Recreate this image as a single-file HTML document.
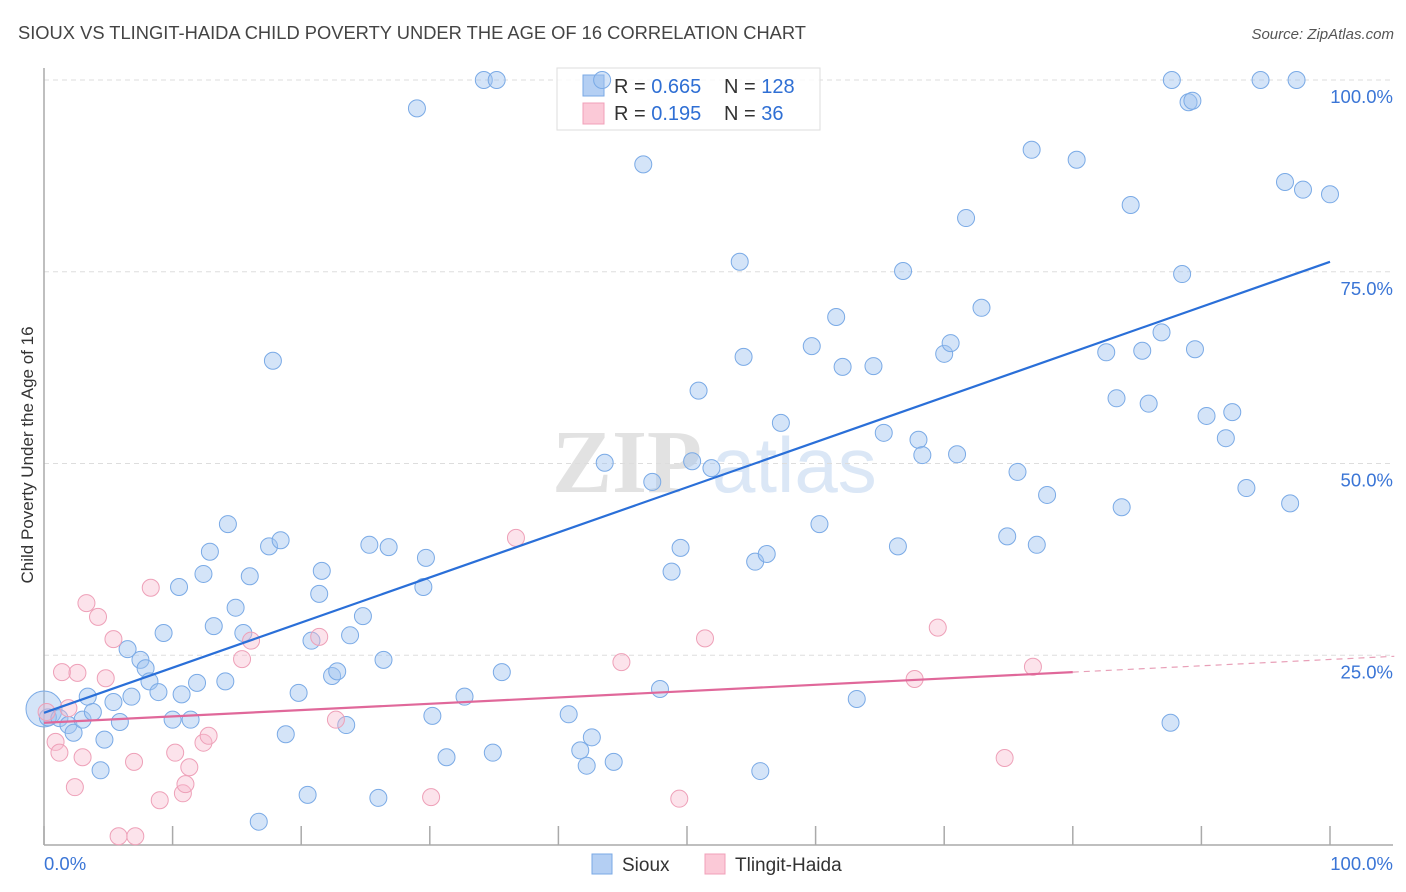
<!DOCTYPE html>
<html><head><meta charset="utf-8">
<style>
body{margin:0;background:#fff;font-family:"Liberation Sans",sans-serif;}
svg{display:block}
</style></head>
<body>
<svg id="chart" width="1406" height="892" xmlns="http://www.w3.org/2000/svg">
<text x="18" y="39" font-size="18" fill="#444" textLength="788" lengthAdjust="spacingAndGlyphs">SIOUX VS TLINGIT-HAIDA CHILD POVERTY UNDER THE AGE OF 16 CORRELATION CHART</text>
<text x="1394" y="39" font-size="15" fill="#555" font-style="italic" text-anchor="end">Source: ZipAtlas.com</text>
<text x="0" y="0" transform="translate(33,455) rotate(-90)" font-size="17" fill="#333" text-anchor="middle">Child Poverty Under the Age of 16</text>
<g>
<text x="552" y="492" font-size="90" fill="#e2e2e2" font-family="Liberation Serif,serif" font-weight="bold">ZIP</text>
<text x="712" y="492" font-size="78" fill="#dbe7f6">atlas</text>
</g>
<g id="grid"></g>
<g id="axes"></g>
<g>
<rect x="557" y="68" width="263" height="62" fill="#fff" fill-opacity="0.8" stroke="#ddd"/>
<rect x="583" y="75" width="21" height="21" fill="#b4cff3" stroke="#7aa8e6"/>
<rect x="583" y="103" width="21" height="21" fill="#fbc9d7" stroke="#f0a0b8"/>
<text x="614" y="93" font-size="20" fill="#333">R = <tspan fill="#2f6fd4">0.665</tspan></text>
<text x="724" y="93" font-size="20" fill="#333">N = <tspan fill="#2f6fd4">128</tspan></text>
<text x="614" y="120" font-size="20" fill="#333">R = <tspan fill="#2f6fd4"> 0.195</tspan></text>
<text x="724" y="120" font-size="20" fill="#333">N = <tspan fill="#2f6fd4"> 36</tspan></text>
</g>
<g id="points"></g>
<g id="lines"></g>
<g>
<rect x="592" y="854" width="20" height="20" fill="#b4cff3" stroke="#7aa8e6"/>
<text x="622" y="871" font-size="19" fill="#333">Sioux</text>
<rect x="705" y="854" width="20" height="20" fill="#fbc9d7" stroke="#f0a0b8"/>
<text x="735" y="871" font-size="19" fill="#333">Tlingit-Haida</text>
</g>
</svg>
<script>
const yTicks=[25,50,75,100];
const yTickLabels=["25.0%","50.0%","75.0%","100.0%"];
const xTicks=[0,10,20,30,40,50,60,70,80,90,100];
const siouxX=[0.3,1.2,1.9,2.3,3.0,3.4,3.8,4.4,4.7,5.4,5.9,6.5,6.8,7.5,7.9,8.2,8.9,9.3,10.0,10.5,10.7,11.4,11.9,12.4,12.9,13.2,14.1,14.3,14.9,15.5,16.0,16.7,17.5,17.8,18.4,18.8,19.8,20.5,20.8,21.4,21.6,22.4,22.8,23.5,23.8,24.8,25.3,26.0,26.4,26.8,29.0,29.7,29.5,30.2,31.3,32.7,34.2,34.9,35.2,35.6,40.8,41.7,42.2,42.6,43.4,43.6,44.3,46.6,47.3,47.9,48.8,49.5,50.4,50.9,51.9,54.1,54.4,55.3,55.7,56.2,57.3,59.7,60.3,61.6,62.1,63.2,64.5,65.3,66.4,66.8,68.0,68.3,70.0,70.5,71.0,71.7,72.9,74.9,75.7,76.8,77.2,78.0,80.3,82.6,83.4,83.8,84.5,85.4,85.9,86.9,87.6,87.7,88.5,89.0,89.3,89.5,90.4,91.9,92.4,93.5,94.6,96.5,96.9,97.4,97.9,100];
const siouxY=[16.9,16.8,15.9,14.9,16.6,19.6,17.6,10.0,14.0,18.9,16.3,25.8,19.6,24.4,23.3,21.6,20.2,27.9,16.6,33.9,19.9,16.6,21.4,35.6,38.5,28.8,21.6,42.1,31.2,27.9,35.3,3.3,39.2,63.4,40.0,14.7,20.1,6.8,26.9,33.0,36.0,22.3,22.9,15.9,27.6,30.1,39.4,6.4,24.4,39.1,96.3,37.7,33.9,17.1,11.7,19.6,100,12.3,100,22.8,17.3,12.6,10.6,14.3,100,50.1,11.1,89.0,47.6,20.6,35.9,39.0,50.3,59.5,49.4,76.3,63.9,37.2,9.9,38.2,55.3,65.3,42.1,69.1,62.6,19.3,62.7,54.0,39.2,75.1,53.1,51.1,64.3,65.7,51.2,82.0,70.3,40.5,48.9,90.9,39.4,45.9,89.6,64.5,58.5,44.3,83.7,64.7,57.8,67.1,16.2,100,74.7,97.1,97.3,64.9,56.2,53.3,56.7,46.8,100,86.7,44.8,100,85.7,85.1];
const tlingitX=[0.2,0.9,1.2,1.4,1.9,2.4,2.6,3.0,3.3,4.2,4.8,5.4,5.8,7.0,7.1,8.3,9.0,10.2,10.8,11.0,11.3,12.4,12.8,15.4,16.1,21.4,22.7,30.1,36.7,44.9,49.4,51.4,67.7,69.5,74.7,76.9];
const tlingitY=[17.6,13.7,12.3,22.8,18.1,7.8,22.7,11.7,31.8,30.0,22.0,27.1,1.4,11.1,1.4,33.8,6.1,12.3,7.0,8.2,10.4,13.6,14.5,24.5,26.9,27.4,16.6,6.5,40.3,24.1,6.3,27.2,21.9,28.6,11.6,23.5];
const siouxTrend=[17.5,76.3];
const tlingitTrend=[16.2,22.8];
const tlingitTrendEnd=80;

const NS="http://www.w3.org/2000/svg";
const X=v=>44+v*12.86;
const Y=v=>847-v*7.67;
function mk(tag,attrs,parent){const e=document.createElementNS(NS,tag);for(const k in attrs)e.setAttribute(k,attrs[k]);parent.appendChild(e);return e;}
const grid=document.getElementById('grid'),axes=document.getElementById('axes'),pts=document.getElementById('points'),lines=document.getElementById('lines');
yTicks.forEach((t,i)=>{
 const l=mk('line',{x1:44,x2:1393,y1:Y(t),y2:Y(t),stroke:'#ddd','stroke-dasharray':'5,4'},grid);
 
 
 const tx=mk('text',{x:1393,y:Y(t)+23,'font-size':18.5,fill:'#3a75d6','text-anchor':'end'},axes);
 tx.textContent=yTickLabels[i];
 
 
});
const ya=mk('line',{x1:44,x2:44,y1:68,y2:845,stroke:'#aaa','stroke-width':1.5},axes);


const xa=mk('line',{x1:44,x2:1393,y1:845,y2:845,stroke:'#aaa','stroke-width':1.5},axes);


xTicks.forEach(t=>{
 const l=mk('line',{x1:X(t),x2:X(t),y1:826,y2:845,stroke:'#aaa','stroke-width':1.5},axes);
 
 
});
const xl0=mk('text',{x:44,y:870,'font-size':18.5,fill:'#3a75d6'},axes);xl0.textContent='0.0%';


const xl1=mk('text',{x:1393,y:870,'font-size':18.5,fill:'#3a75d6','text-anchor':'end'},axes);xl1.textContent='100.0%';



const big=mk('circle',{cx:X(0),cy:Y(18),r:18,fill:'rgba(160,196,240,0.45)',stroke:'#7aaae6','stroke-width':1},pts);


siouxX.forEach((x,i)=>{
 const c=mk('circle',{cx:X(x),cy:Y(siouxY[i]),r:8.5,fill:'rgba(160,196,240,0.45)',stroke:'#7aaae6','stroke-width':1},pts);
 
 
});
tlingitX.forEach((x,i)=>{
 const c=mk('circle',{cx:X(x),cy:Y(tlingitY[i]),r:8.5,fill:'rgba(248,185,205,0.4)',stroke:'#eea0b8','stroke-width':1},pts);
 
 
});
const sl=mk('line',{x1:X(0),y1:Y(siouxTrend[0]),x2:X(100),y2:Y(siouxTrend[1]),stroke:'#2a6fd8','stroke-width':2.2},lines);


const slope=(tlingitTrend[1]-tlingitTrend[0])/tlingitTrendEnd;
const tl=mk('line',{x1:X(0),y1:Y(tlingitTrend[0]),x2:X(tlingitTrendEnd),y2:Y(tlingitTrend[1]),stroke:'#e0689a','stroke-width':2.2},lines);


const td=mk('line',{x1:X(tlingitTrendEnd),y1:Y(tlingitTrend[1]),x2:X(105),y2:Y(tlingitTrend[0]+slope*105),stroke:'#e8a0b8','stroke-width':1.2,'stroke-dasharray':'6,5'},lines);


</script>
</body></html>
